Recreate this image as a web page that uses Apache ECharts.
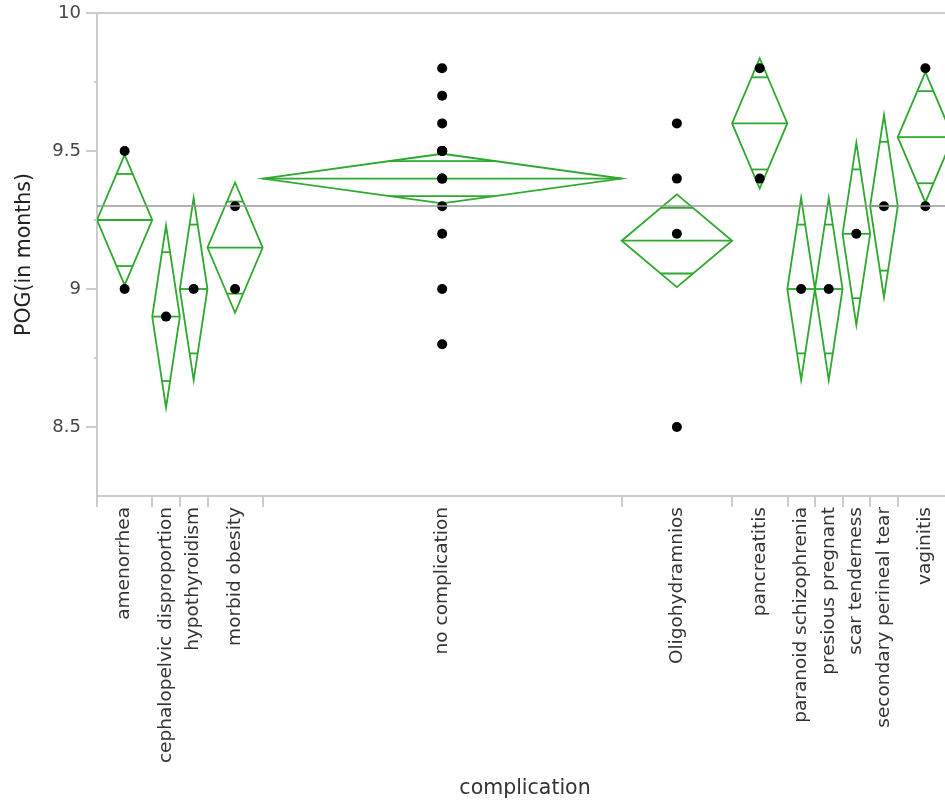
<!DOCTYPE html>
<html>
<head>
<meta charset="utf-8">
<script src="https://cdn.jsdelivr.net/npm/echarts@6/dist/echarts.min.js"></script>
<style>
  html, body { margin: 0; padding: 0; background: #fff; }
  #chart { width: 945px; height: 805px; }
</style>
</head>
<body>
<div id="chart"></div>
<script>
// ---- data ----
var categories = ['amenorrhea', 'cephalopelvic disproportion', 'hypothyroidism', 'morbid obesity',
    'no complication', 'Oligohydramnios', 'pancreatitis', 'paranoid schizophrenia',
    'presious pregnant', 'scar tenderness', 'secondary perineal tear', 'vaginitis'];

// POG (in months) for each patient, per group
var pogValues = [
    [9.5, 9.0],
    [8.9],
    [9.0],
    [9.3, 9.0],
    [9.8, 9.7, 9.6, 9.5, 9.5, 9.5, 9.5, 9.4, 9.4, 9.3, 9.2, 9.0, 8.8],
    [9.6, 9.4, 9.2, 8.5],
    [9.8, 9.4],
    [9.0],
    [9.0],
    [9.2],
    [9.3],
    [9.8, 9.3]
];

// half height of each means diamond (95% CI)
var ciHalf = [0.236, 0.33, 0.33, 0.236, 0.09, 0.168, 0.236, 0.33, 0.33, 0.33, 0.33, 0.236];

var yMajorTicks = [8.5, 9, 9.5, 10];
var yMinorTicks = [8.75, 9.25, 9.75];

// ---- build the chart ----
function renderChart() {
    var dom = document.getElementById('chart');
    var myChart = echarts.init(dom, null, { renderer: 'canvas' });

    var green = '#2ea82e';
    var axisGray = '#cccccc';
    var font = 'DejaVu Sans';

    var bounds = [0];
    var centers = [];
    var diamonds = [];
    var points = [];
    var total = 0, sum = 0;
    pogValues.forEach(function (vals, i) {
        var x0 = bounds[bounds.length - 1];
        var x1 = x0 + vals.length;
        var xc = (x0 + x1) / 2;
        var m = 0;
        vals.forEach(function (v) { m += v; points.push([xc, v]); });
        sum += m;
        total += vals.length;
        m = m / vals.length;
        bounds.push(x1);
        centers.push(xc);
        diamonds.push([x0, x1, m, ciHalf[i]]);
    });
    var grandMean = sum / total;

    function labelFor(value) {
        for (var i = 0; i < centers.length; i++) {
            if (Math.abs(centers[i] - value) < 1e-6) return categories[i];
        }
        return '';
    }

    var option = {
        animation: false,
        textStyle: { fontFamily: font },
        grid: {
            left: 97,
            width: 856,
            top: 13,
            bottom: 309,
            outerBoundsMode: 'none'
        },
        xAxis: [{
            type: 'value',
            min: 0,
            max: total,
            position: 'bottom',
            name: 'complication',
            nameLocation: 'middle',
            nameGap: 282,
            nameTextStyle: { fontSize: 20.5, color: '#333', fontFamily: font },
            axisLine: { show: true, lineStyle: { color: axisGray, width: 2 } },
            axisTick: {
                show: true,
                customValues: bounds,
                length: 11,
                lineStyle: { color: axisGray, width: 2 }
            },
            axisLabel: {
                customValues: centers,
                rotate: 90,
                margin: 11,
                fontSize: 18.5,
                color: '#333',
                fontFamily: font,
                formatter: labelFor
            },
            splitLine: { show: false }
        }, {
            type: 'value',
            min: 0,
            max: total,
            position: 'top',
            axisLine: { show: true, lineStyle: { color: axisGray, width: 2 } },
            axisTick: { show: false },
            axisLabel: { show: false },
            splitLine: { show: false }
        }],
        yAxis: [{
            type: 'value',
            min: 8.25,
            max: 10,
            position: 'left',
            name: 'POG(in months)',
            nameLocation: 'middle',
            nameGap: 62,
            nameRotate: 90,
            nameTextStyle: { fontSize: 20.5, color: '#222', fontFamily: font },
            axisLine: { show: true, lineStyle: { color: axisGray, width: 2 } },
            axisTick: {
                show: true,
                customValues: yMajorTicks,
                length: 11,
                lineStyle: { color: axisGray, width: 2 }
            },
            axisLabel: {
                customValues: yMajorTicks,
                margin: 16,
                fontSize: 18,
                color: '#444',
                fontFamily: font,
                formatter: function (v) { return String(v); }
            },
            splitLine: { show: false }
        }, {
            type: 'value',
            min: 8.25,
            max: 10,
            position: 'left',
            axisLine: { show: false },
            axisTick: {
                show: true,
                customValues: yMinorTicks,
                length: 3,
                lineStyle: { color: axisGray, width: 2 }
            },
            axisLabel: { show: false },
            splitLine: { show: false }
        }],
        series: [{
            name: 'means diamonds',
            type: 'custom',
            xAxisIndex: 0,
            yAxisIndex: 0,
            z: 2,
            clip: true,
            data: diamonds,
            renderItem: function (params, api) {
                var x0 = api.value(0), x1 = api.value(1);
                var m = api.value(2), h = api.value(3);
                var xc = (x0 + x1) / 2;
                var L = api.coord([x0, m]);
                var R = api.coord([x1, m]);
                var T = api.coord([xc, m + h]);
                var B = api.coord([xc, m - h]);
                var k = Math.SQRT1_2;
                var hw = (R[0] - L[0]) / 2 * (1 - k);
                var up = api.coord([xc, m + h * k]);
                var dn = api.coord([xc, m - h * k]);
                var st = { stroke: green, lineWidth: 1.8, fill: null };
                return {
                    type: 'group',
                    children: [{
                        type: 'polygon',
                        shape: { points: [L, T, R, B] },
                        style: st
                    }, {
                        type: 'line',
                        shape: { x1: L[0], y1: L[1], x2: R[0], y2: R[1] },
                        style: st
                    }, {
                        type: 'line',
                        shape: { x1: up[0] - hw, y1: up[1], x2: up[0] + hw, y2: up[1] },
                        style: st
                    }, {
                        type: 'line',
                        shape: { x1: dn[0] - hw, y1: dn[1], x2: dn[0] + hw, y2: dn[1] },
                        style: st
                    }]
                };
            },
            markLine: {
                silent: true,
                symbol: 'none',
                label: { show: false },
                lineStyle: { color: '#999', width: 1.5, type: 'solid' },
                data: [{ yAxis: grandMean }]
            }
        }, {
            name: 'POG',
            type: 'scatter',
            xAxisIndex: 0,
            yAxisIndex: 0,
            z: 3,
            symbolSize: 10,
            itemStyle: { color: '#000', opacity: 1 },
            data: points
        }]
    };

    if (option && typeof option === 'object') {
        myChart.setOption(option);
    }
}
renderChart();
</script>
</body>
</html>
